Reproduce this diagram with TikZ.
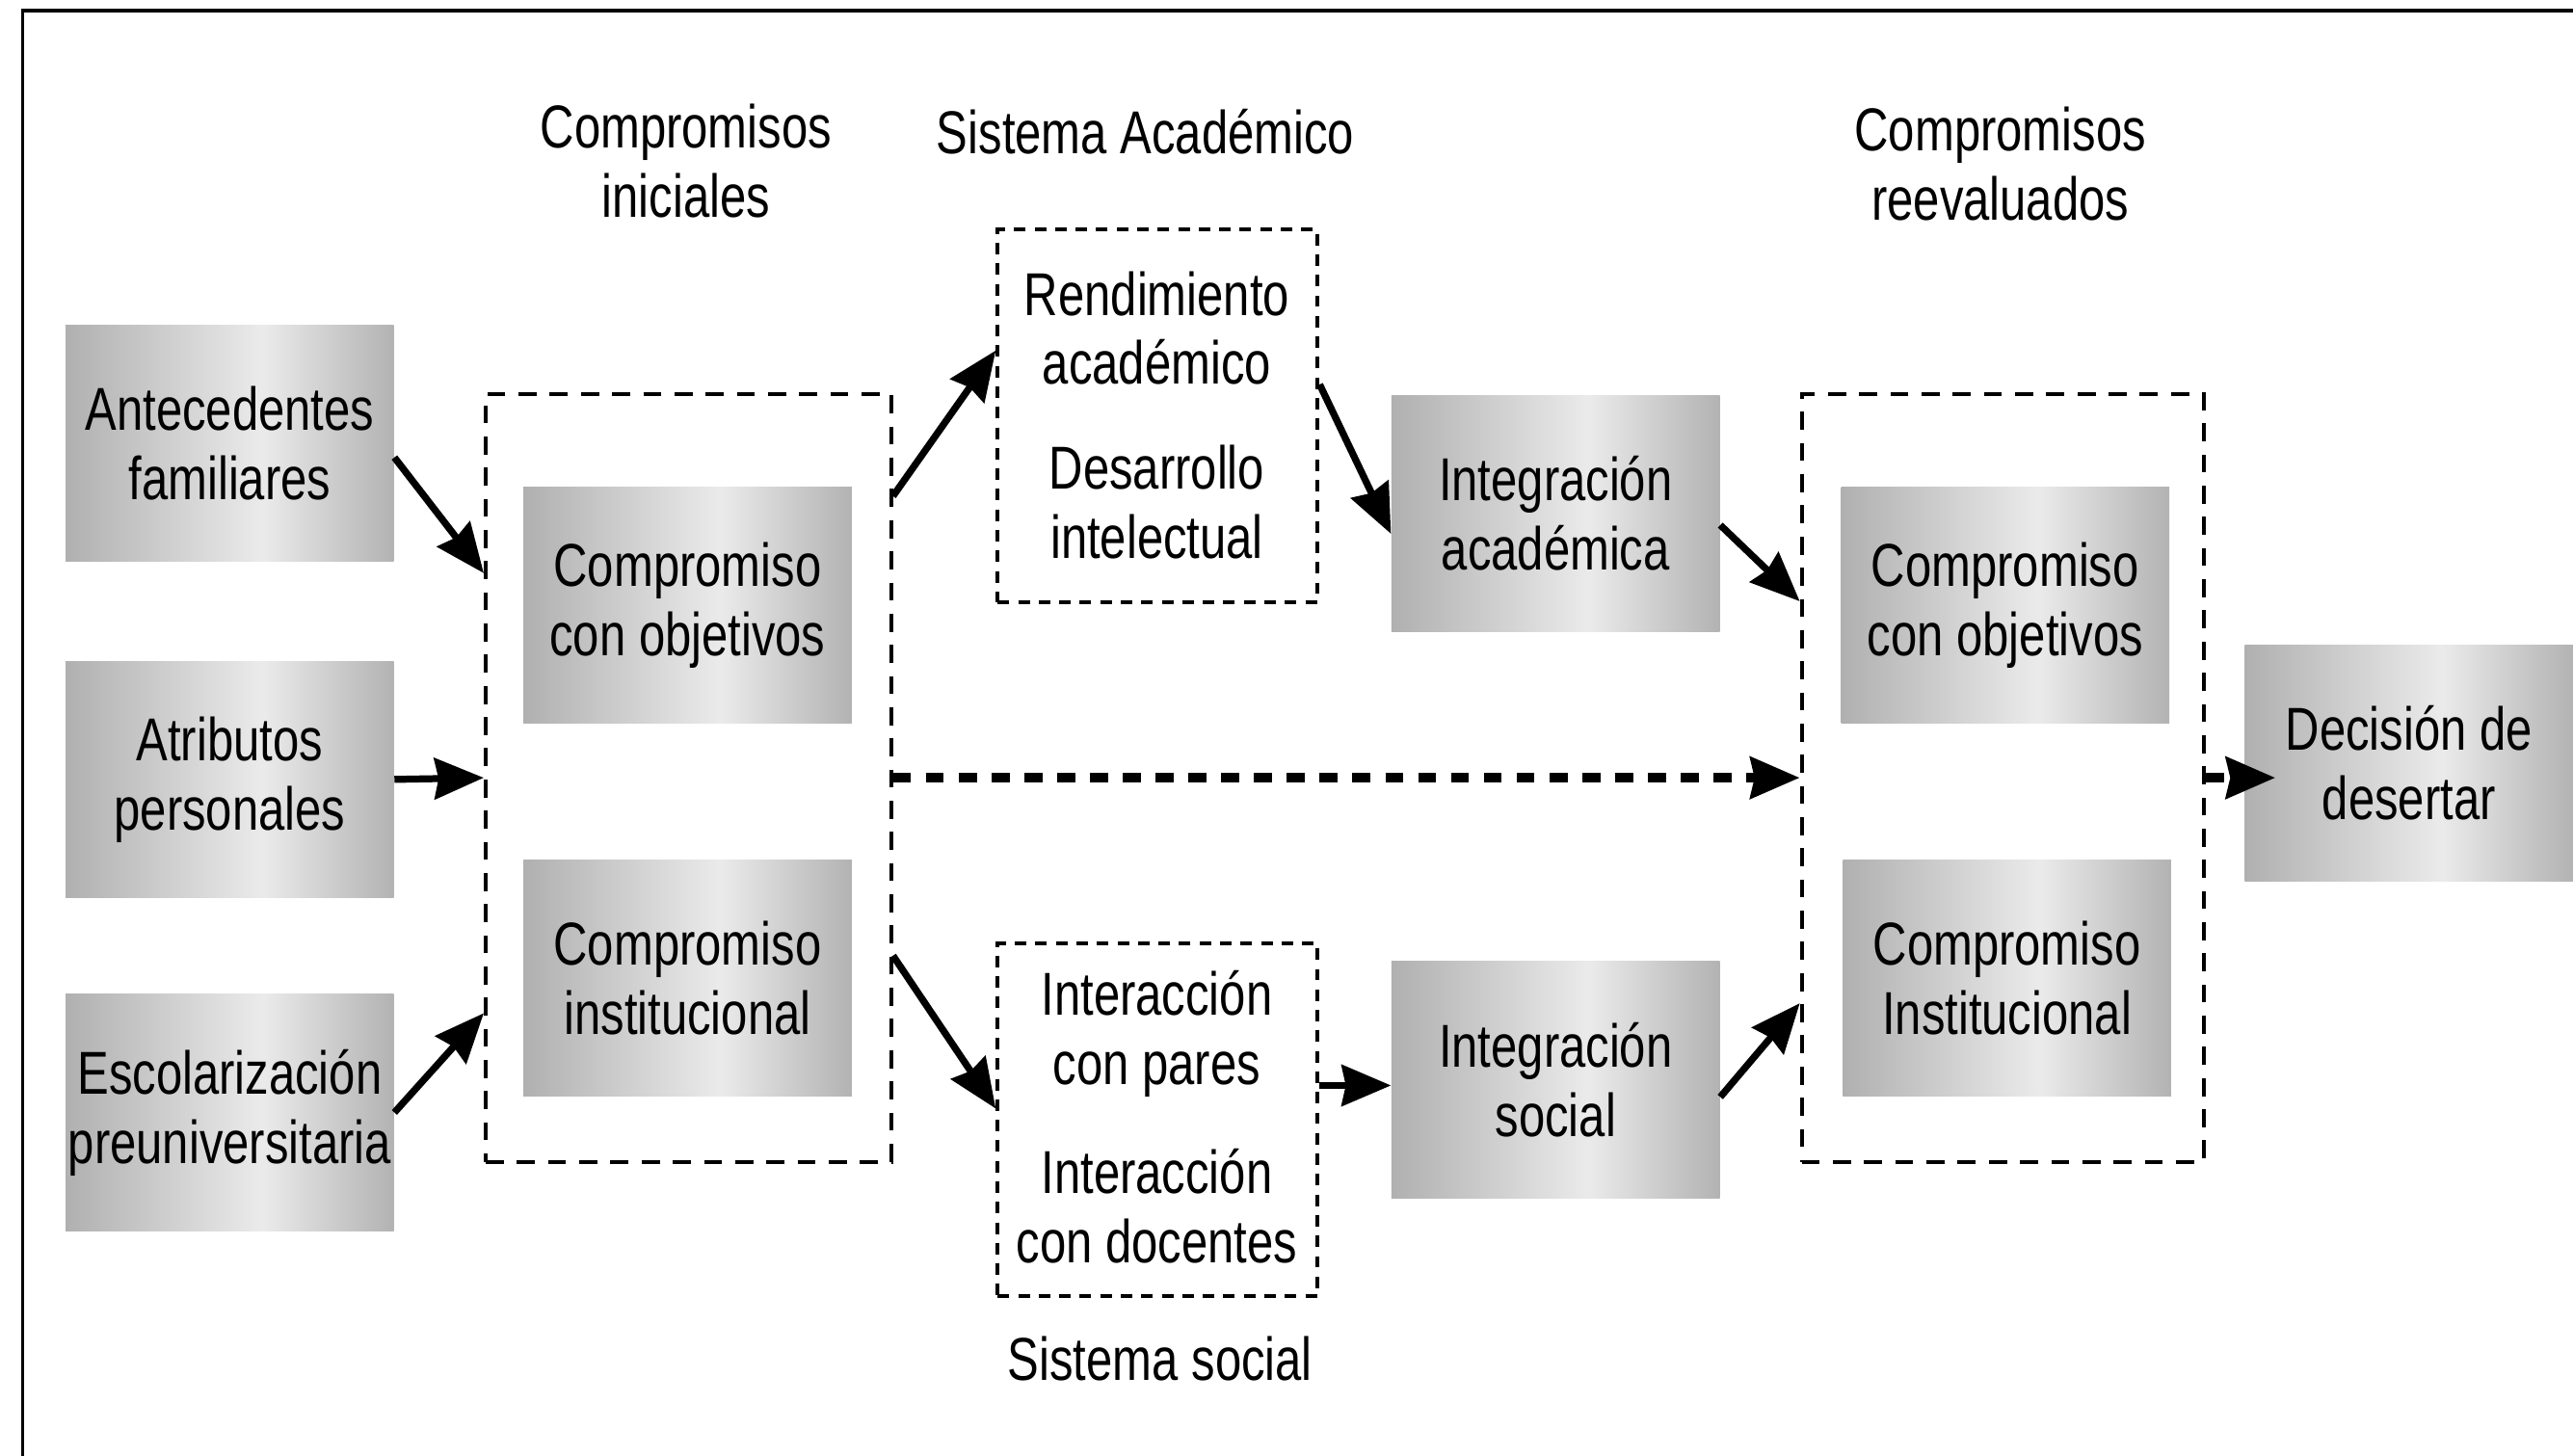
\documentclass[tikz,border=0pt]{standalone}
\usepackage{fontspec}
\setmainfont{Liberation Sans}[FakeStretch=0.78]
\usepackage{tikz}
\usetikzlibrary{arrows.meta}
\pgfdeclarehorizontalshading{grayfade}{100bp}{color(0bp)=(black!31); color(25bp)=(black!31); color(55bp)=(black!8); color(75bp)=(black!30); color(100bp)=(black!30)}

\begin{document}
\begin{tikzpicture}[x=0.2mm,y=-0.2mm,
	txt/.style={font=\fontsize{21}{24}\selectfont, align=center, inner sep=0pt},
	gbox/.style={txt, shade, shading=grayfade, minimum width=40mm, minimum height=28.8mm},
	dbox/.style={draw, line width=0.48mm, dash pattern=on 2.2mm off 1.6mm, inner sep=0pt},
	sbox/.style={draw, line width=0.48mm, dash pattern=on 1.4mm off 1.1mm, inner sep=0pt},
	arr/.style={line width=0.85mm, -{Stealth[length=6mm,width=5mm,inset=0.5mm]}},
	darr/.style={arr, line width=1.2mm, dash pattern=on 2.2mm off 1.8mm}]
	\useasboundingbox (0,0) rectangle (1568,887);
	\draw[line width=0.4mm] (13.7,900) -- (13.7,6.5) -- (1600,6.5);

	\node[txt] (tini) at (418,98) {Compromisos\\iniciales};
	\node[txt] (tacad) at (698,80) {Sistema Académico};
	\node[txt] (treev) at (1219,100) {Compromisos\\reevaluados};
	\node[txt] (tsoc) at (707,828) {Sistema social};

	\node[gbox] (ant) at (140,270) {Antecedentes\\familiares};
	\node[gbox] (atr) at (140,475) {Atributos\\personales};
	\node[gbox] (esc) at (140,678) {Escolarización\\preuniversitaria};

	\node[dbox, minimum width=49.4mm, minimum height=93.6mm] (ini) at (419.5,474) {};
	\node[gbox] (cobj) at (419,369) {Compromiso\\con objetivos};
	\node[gbox] (cins) at (419,596) {Compromiso\\institucional};

	\node[sbox, minimum width=39mm, minimum height=45.4mm] (acad) at (705.5,253.5) {};
	\node[txt] (ren) at (705,200) {Rendimiento\\académico};
	\node[txt] (des) at (705,306) {Desarrollo\\intelectual};

	\node[sbox, minimum width=39mm, minimum height=43mm] (soc) at (705.5,682.5) {};
	\node[txt] (ipar) at (705,630) {Interacción\\con pares};
	\node[txt] (idoc) at (705,735) {Interacción\\con docentes};

	\node[gbox] (iac) at (948,313) {Integración\\académica};
	\node[gbox] (iso) at (948,658) {Integración\\social};

	\node[dbox, minimum width=49mm, minimum height=93.6mm] (reev) at (1220.5,474) {};
	\node[gbox] (cobjr) at (1222,369) {Compromiso\\con objetivos};
	\node[gbox] (cinsr) at (1223,596) {Compromiso\\Institucional};

	\node[gbox] (dec) at (1468,465) {Decisión de\\desertar};

	\draw[arr] (ant.-5) -- (ini.135);
	\draw[arr] (atr.east) -- (ini.west);
	\draw[arr] (esc.east) -- (ini.229);
	\draw[arr] (ini.54) -- (acad.158);
	\draw[arr] (acad.11) -- (iac.187);
	\draw[arr] (ini.-41) -- (soc.176);
	\draw[arr] (soc.12) -- (soc.12 -| iso.west);
	\draw[arr] (iac.-4) -- (reev.139);
	\draw[arr] (iso.-6) -- (reev.228);
	\draw[darr] (ini.east) -- (reev.west);
	\draw[darr, shorten >=-3.8mm] (reev.east) -- (reev.east -| dec.west);

\end{tikzpicture}
\end{document}
